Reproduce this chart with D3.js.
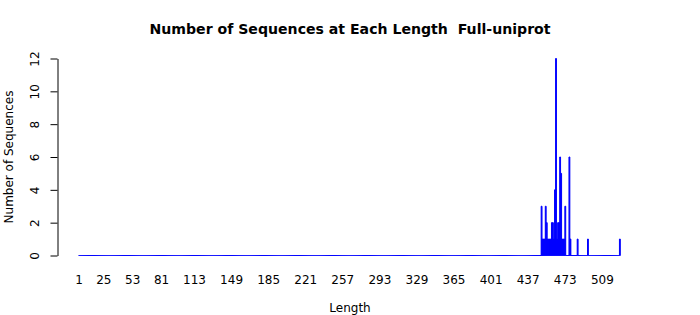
<!DOCTYPE html>
<html>
<head>
<meta charset="utf-8">
<script src="https://cdn.jsdelivr.net/npm/d3@7"></script>
<style>
  html, body { margin: 0; padding: 0; background: #fff; }
  svg { display: block; }
  text { font-family: "DejaVu Sans", sans-serif; fill: #000; }
</style>
</head>
<body>
<svg id="chart" width="700" height="315"></svg>
<script>
// ---- data ----
const title = "Number of Sequences at Each Length  Full-uniprot";
const xLabel = "Length";
const yLabel = "Number of Sequences";
const minLength = 1;
const maxLength = 526;
// non-zero counts (all other lengths are 0)
const nonZeroLengths = [450, 451, 452, 453, 454, 455, 456, 457, 458, 459, 460, 461, 462, 463, 464, 465, 466, 467, 468, 469, 470, 471, 472, 473, 477, 478, 485, 495, 526];
const nonZeroCounts  = [  3,   1,   1,   1,   3,   2,   1,   1,   1,   1,   2,   2,   1,   4,  12,   1,   2,   2,   6,   5,   1,   1,   1,   3,   6,   1,   1,   1,   1];
const xTickLabels = [1, 25, 53, 81, 113, 149, 185, 221, 257, 293, 329, 365, 401, 437, 473, 509];
const yTicks = [0, 2, 4, 6, 8, 10, 12];

// table built from the arrays
const lengths = d3.range(minLength, maxLength + 1);
const countMap = new Map(nonZeroLengths.map((l, i) => [l, nonZeroCounts[i]]));
const data = lengths.map(l => ({ length: l, count: countMap.get(l) || 0 }));

const svg = d3.select("#chart");

const x = d3.scaleBand()
  .domain(lengths)
  .range([78.7, 620.3])
  .paddingInner(1 / 6)
  .paddingOuter(0);

const y = d3.scaleLinear().domain([0, 12]).range([255.5, 58.5]);

// bars (paths so zero-height bars still show their outline)
svg.append("g")
  .selectAll("path")
  .data(data)
  .join("path")
  .attr("d", d => {
    const p = d3.path();
    const x0 = x(d.length), x1 = x0 + x.bandwidth();
    p.moveTo(x0, y(0));
    p.lineTo(x0, y(d.count));
    p.lineTo(x1, y(d.count));
    p.lineTo(x1, y(0));
    p.closePath();
    return p.toString();
  })
  .attr("fill", "#0000ff")
  .attr("stroke", "#0000ff")
  .attr("stroke-width", 1);

// y axis
const yAxis = svg.append("g")
  .attr("transform", "translate(57.5,0)")
  .call(d3.axisLeft(y).tickValues(yTicks).tickSize(7).tickSizeOuter(0).tickFormat(d3.format("d")));
yAxis.select(".domain").attr("stroke", "#000");
yAxis.selectAll(".tick line").attr("stroke", "#000");
yAxis.selectAll(".tick text")
  .attr("x", null).attr("dy", null)
  .attr("transform", "translate(-19,0) rotate(-90)")
  .attr("text-anchor", "middle")
  .style("font-family", "DejaVu Sans, sans-serif")
  .style("font-size", "12px")
  .attr("fill", "#000");

// x tick labels (no axis line, as in barplot)
svg.append("g")
  .selectAll("text")
  .data(xTickLabels)
  .join("text")
  .attr("x", d => x(d) + x.bandwidth() / 2)
  .attr("y", 283.5)
  .attr("text-anchor", "middle")
  .style("font-size", "12px")
  .text(d => d);

// title
svg.append("text")
  .attr("x", 350)
  .attr("y", 34)
  .attr("text-anchor", "middle")
  .style("font-size", "14.1px")
  .style("font-weight", "bold")
  .style("white-space", "pre")
  .text(title);

// x label
svg.append("text")
  .attr("x", 350)
  .attr("y", 312)
  .attr("text-anchor", "middle")
  .style("font-size", "12px")
  .text(xLabel);

// y label
svg.append("text")
  .attr("transform", "translate(13,157) rotate(-90)")
  .attr("text-anchor", "middle")
  .style("font-size", "12px")
  .text(yLabel);
</script>
</body>
</html>
